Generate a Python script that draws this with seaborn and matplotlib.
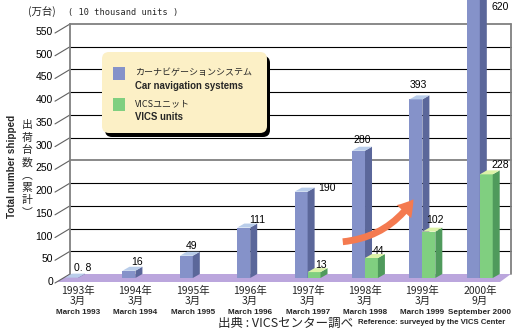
import numpy as np
import pandas as pd
import matplotlib
matplotlib.use("Agg")
import matplotlib.pyplot as plt
import matplotlib.transforms as mtransforms
from matplotlib.patches import Polygon, FancyBboxPatch, Rectangle, FancyArrowPatch
from matplotlib.lines import Line2D
import seaborn as sns

# ---------------- data ----------------
periods = ["1993-03", "1994-03", "1995-03", "1996-03", "1997-03", "1998-03", "1999-03", "2000-09"]
year_labels = ["1993年", "1994年", "1995年", "1996年", "1997年", "1998年", "1999年", "2000年"]
month_labels = ["3月", "3月", "3月", "3月", "3月", "3月", "3月", "9月"]
english_labels = ["March 1993", "March 1994", "March 1995", "March 1996",
                  "March 1997", "March 1998", "March 1999", "September 2000"]
series_jp = ["カーナビゲーションシステム", "VICSユニット"]
series_en = ["Car navigation systems", "VICS units"]
car_nav = [0.8, 16, 49, 111, 190, 280, 393, 620]
vics = [0, 0, 0, 0, 13, 44, 102, 228]
car_nav_text = ["0. 8", "16", "49", "111", "190", "280", "393", "620"]
vics_text = ["", "", "", "", "13", "44", "102", "228"]
y_ticks = [0, 50, 100, 150, 200, 250, 300, 350, 400, 450, 500, 550]

# label placement (pixels, relative to the right/top corner of each bar)
car_off = [(5, -10), (2, -9), (-1, -10), (7, -8), (19, -4), (-3, -11), (-4, -14), (20, 11)]
vics_off = [(0, 0), (0, 0), (0, 0), (0, 0), (0, -7), (1, -7), (0, -12), (8, -9)]

# ---------------- style ----------------
sns.set_theme(style="white")
plt.rcParams["font.family"] = ["Noto Sans CJK JP", "DejaVu Sans"]

BOLD = "Liberation Sans"
SANS = "Liberation Sans"
CJK = "Noto Sans CJK JP"

BLUE, BLUE_SIDE, BLUE_TOP = "#8592c9", "#5b679a", "#b9cdea"
GREEN, GREEN_SIDE, GREEN_TOP = "#80cf80", "#4f9a5c", "#dcf2a8"
FLOOR = "#bba6dd"

W, H = 518, 336
fig = plt.figure(figsize=(W / 100, H / 100), dpi=100)
ax = fig.add_axes([62 / W, (H - 278) / H, (503 - 62) / W, 250 / H])

df = pd.DataFrame({
    "period": periods * 2,
    "series": [series_jp[0]] * len(periods) + [series_jp[1]] * len(periods),
    "units": car_nav + vics,
})
sns.barplot(data=df, x="period", y="units", hue="series", order=periods,
            hue_order=series_jp, palette=[BLUE, GREEN], width=0.45, dodge=True,
            saturation=1, legend=False, edgecolor="none", linewidth=0, ax=ax)
ax.set_xlim(-0.279, 7.404)
ax.set_ylim(0, 550)
ax.set_axis_off()

ID = mtransforms.IdentityTransform()


def img(xd, yd):
    """data -> image pixel (y down)"""
    dx, dy = ax.transData.transform((xd, yd))
    return dx, H - dy


def d(p):
    """image pixel -> display"""
    return (p[0], H - p[1])


def poly(points, **kw):
    p = Polygon([d(q) for q in points], closed=True, transform=ID, clip_on=False, **kw)
    ax.add_patch(p)
    return p


def line(p0, p1, **kw):
    l = Line2D([p0[0], p1[0]], [H - p0[1], H - p1[1]], transform=ID, clip_on=False, **kw)
    ax.add_line(l)


def txt(x, y, s, **kw):
    return fig.text(x / W, 1 - y / H, s, **kw)


x0px, _ = img(ax.get_xlim()[0], 0)
x1px, _ = img(ax.get_xlim()[1], 0)
WALL_DX, WALL_DY = 8, -4

# floor
_, y0px = img(0, 0)
poly([(x0px - 5, y0px + 4), (x1px - 3, y0px + 4), (x1px + WALL_DX, y0px + WALL_DY),
      (x0px + WALL_DX, y0px + WALL_DY)], facecolor=FLOOR, edgecolor="none", zorder=0.5)

# back wall grid, ticks and tick labels
for t in y_ticks:
    _, yp = img(0, t)
    col, lw = ("#808080", 1.3) if t in (250, 550) else ("black", 0.8)
    if t > 0:
        line((x0px + WALL_DX, yp + WALL_DY), (x1px + WALL_DX, yp + WALL_DY), color=col, lw=lw, zorder=0.6)
    line((x0px - 7, yp + 5), (x0px + WALL_DX, yp + WALL_DY), color="#606060", lw=0.8, zorder=0.6)
    txt(x0px - 9, yp + 4, str(t), ha="right", va="center", fontsize=7.5, family=SANS, color="black")
_, ytop = img(0, 550)
for xx in (x0px, x1px):
    line((xx + WALL_DX, y0px + WALL_DY), (xx + WALL_DX, ytop + WALL_DY), color="#808080", lw=1.3, zorder=0.6)

# 3D faces of bars
DEPTH = (7, -4)
faces = [(BLUE, BLUE_SIDE, BLUE_TOP, 2), (GREEN, GREEN_SIDE, GREEN_TOP, 3)]
texts = [car_nav_text, vics_text]
offs = [car_off, vics_off]
for k, cont in enumerate(ax.containers):
    front, side, top, z = faces[k]
    for i, bar in enumerate(cont.patches):
        h = bar.get_height()
        if h <= 0:
            continue
        bar.set_clip_on(False)
        bar.set_zorder(z)
        xl, yb = img(bar.get_x(), 0)
        xr, yt = img(bar.get_x() + bar.get_width(), h)
        poly([(xr, yb), (xr + DEPTH[0], yb + DEPTH[1]), (xr + DEPTH[0], yt + DEPTH[1]), (xr, yt)],
             facecolor=side, edgecolor="none", zorder=z)
        poly([(xl, yt), (xr, yt), (xr + DEPTH[0], yt + DEPTH[1]), (xl + DEPTH[0], yt + DEPTH[1])],
             facecolor=top, edgecolor="none", zorder=z)
        ox, oy = offs[k][i]
        txt(xr + ox, yt + oy, texts[k][i], ha="center", va="center",
            fontsize=7.5, family=SANS, color="black", zorder=6)

# category labels (three rows)
for i in range(len(periods)):
    xc, _ = img(i, 0)
    txt(xc, 291, year_labels[i], ha="center", va="center", fontsize=7.5, family=CJK)
    txt(xc, 301, month_labels[i], ha="center", va="center", fontsize=7.5, family=CJK)
    txt(xc, 313, english_labels[i], ha="center", va="center", fontsize=5.9,
        family=BOLD, weight="bold")

# titles / axis labels
txt(28, 12, "(万台)", ha="left", va="center", fontsize=7.5, family=CJK)
txt(68, 12, "( 10 thousand units )", ha="left", va="center", fontsize=6.2,
    family="DejaVu Sans Mono")
txt(12, 166, "Total number shipped", rotation=90, ha="center", va="center",
    fontsize=7.1, family=BOLD, weight="bold")
for j, ch in enumerate("出荷台数︵累計︶"):
    txt(27, 125 + j * 12.5, ch, ha="center", va="center", fontsize=7.8, family=CJK)

# legend box
shadow = FancyBboxPatch(d((105, 137)), 165, 81, boxstyle="round,pad=0,rounding_size=7",
                        transform=ID, facecolor="black", edgecolor="none", clip_on=False, zorder=7)
box = FancyBboxPatch(d((102, 133)), 165, 81, boxstyle="round,pad=0,rounding_size=7",
                     transform=ID, facecolor="#fcf0c6", edgecolor="none", clip_on=False, zorder=7.5)
ax.add_patch(shadow)
ax.add_patch(box)
for k, (yy, col) in enumerate([(67, BLUE), (98, GREEN)]):
    ax.add_patch(Rectangle(d((113, yy + 13)), 12, 13, transform=ID, facecolor=col,
                           edgecolor="none", clip_on=False, zorder=8))
    txt(135, yy + 6, series_jp[k], ha="left", va="center", fontsize=6.5, family=CJK, zorder=9)
    txt(135, yy + 19, series_en[k], ha="left", va="center", fontsize=6.9,
        family=BOLD, weight="bold", zorder=9)

# growth arrow
arrow = FancyArrowPatch(d((340, 242)), d((415, 197)), connectionstyle="arc3,rad=0.25",
                        arrowstyle="simple,head_length=0.8,head_width=1.0,tail_width=0.35",
                        mutation_scale=14, transform=ID, facecolor="#f47a50", edgecolor="none",
                        clip_on=False, zorder=6)
ax.add_patch(arrow)

# source
ref = txt(505, 323, "Reference: surveyed by the VICS Center", ha="right", va="center",
          fontsize=5.6, family=BOLD, weight="bold")
renderer = fig.canvas.get_renderer()
ref_left = ref.get_window_extent(renderer).x0
txt(ref_left - 5, 323, "出典 : VICSセンター調べ", ha="right", va="center",
    fontsize=9, family=CJK)

fig.savefig("out.png", dpi=100)
